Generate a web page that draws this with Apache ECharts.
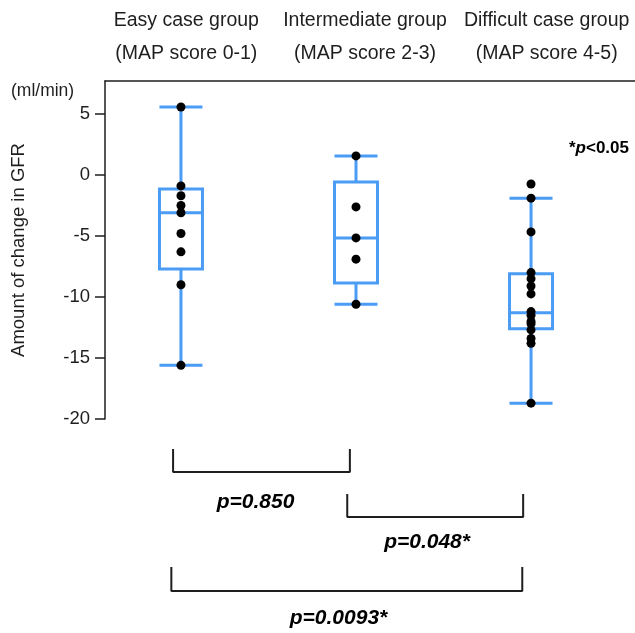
<!DOCTYPE html>
<html>
<head>
<meta charset="utf-8">
<script src="https://cdn.jsdelivr.net/npm/echarts@6/dist/echarts.min.js"></script>
<style>
  html, body { margin: 0; padding: 0; background: #fff; }
  #chart { width: 635px; height: 633px; }
</style>
</head>
<body>
<div id="chart"></div>
<script>
// 分组 / categories
const groupLabels = [
  'Easy case group\n(MAP score 0-1)',
  'Intermediate group\n(MAP score 2-3)',
  'Difficult case group\n(MAP score 4-5)'
];
const groupX = [1, 2, 3];

// box stats: [min, Q1, median, Q3, max]
const easyBox = [-15.6, -7.7, -3.1, -1.15, 5.57];
const intermediateBox = [-10.6, -8.85, -5.16, -0.57, 1.56];
const difficultBox = [-18.7, -12.6, -11.3, -8.1, -1.9];

// individual cases
const easyPoints = [5.57, -0.9, -1.7, -2.5, -3.1, -4.8, -6.3, -9.0, -15.6];
const intermediatePoints = [1.56, -2.62, -5.16, -6.9, -10.6];
const difficultPoints = [-0.74, -1.9, -4.67, -8.0, -8.5, -9.1, -9.75, -11.2, -11.5,
  -12.0, -12.2, -12.7, -13.4, -13.8, -18.7];

const yTicks = [-20, -15, -10, -5, 0, 5];

// comparison brackets: [from, to] on group axis, rows in bracket area
const bracketSpans = [[0.955, 1.965], [1.95, 2.955], [0.945, 2.95]];
const bracketTop = [0.47, 2.8, 6.58];
const bracketBottom = [1.66, 3.99, 7.82];
const pTexts = ['p=0.850', 'p=0.048*', 'p=0.0093*'];
const pTextX = [1.426, 2.406, 1.9];
const pTextY = [3.21, 5.28, 9.22];

const BLUE = '#4a9cf5';
const INK = '#1e1e1e';
const FONT = '"Liberation Sans", Arial, sans-serif';

let chart = null;

function initChart() {
  const container = document.getElementById('chart');
  chart = echarts.init(container, null, { renderer: 'canvas' });

  const pointData = []
    .concat(easyPoints.map(v => [groupX[0], v]))
    .concat(intermediatePoints.map(v => [groupX[1], v]))
    .concat(difficultPoints.map(v => [groupX[2], v]));

  // header labels sit a little left of the category centre in the original
  const labelPadRight = [14, 10, 0];
  const headerData = groupLabels.map((v, i) => ({
    value: v,
    textStyle: { padding: [0, labelPadRight[i], 0, 0] }
  }));

  const bracketSeries = bracketSpans.map((s, i) => ({
    type: 'line',
    xAxisIndex: 2,
    yAxisIndex: 1,
    data: [
      [s[0], bracketTop[i]],
      [s[0], bracketBottom[i]],
      [s[1], bracketBottom[i]],
      [s[1], bracketTop[i]]
    ],
    showSymbol: false,
    silent: true,
    lineStyle: { color: INK, width: 2 }
  }));

  const option = {
    backgroundColor: '#fff',
    animation: false,
    textStyle: { fontFamily: FONT },
    title: [
      {
        text: '(ml/min)',
        left: 6,
        top: 77,
        textStyle: { fontSize: 17.5, fontWeight: 'normal', color: INK, fontFamily: FONT }
      },
      {
        text: '{a|*}{b|p}{a|<0.05}',
        right: 1,
        top: 135,
        textStyle: {
          fontFamily: FONT,
          rich: {
            a: { fontSize: 17, fontWeight: 'bold', color: '#000', fontFamily: FONT },
            b: { fontSize: 17, fontWeight: 'bold', fontStyle: 'italic', color: '#000', fontFamily: FONT }
          }
        }
      }
    ],
    grid: [
      { left: 105, right: 0, top: 81, bottom: 214, outerBoundsMode: 'none', containLabel: false },
      { left: 105, right: 0, top: 440, bottom: 0, outerBoundsMode: 'none', containLabel: false }
    ],
    xAxis: [
      {
        type: 'category',
        gridIndex: 0,
        position: 'top',
        data: headerData,
        boundaryGap: true,
        axisLine: { onZero: false, lineStyle: { color: INK, width: 1.5 } },
        axisTick: { inside: true, length: 8, lineStyle: { color: INK, width: 1.5 } },
        axisLabel: {
          interval: 0,
          hideOverlap: false,
          fontSize: 19.5,
          lineHeight: 33,
          color: INK,
          margin: 11,
          fontFamily: FONT
        },
        splitLine: { show: false }
      },
      {
        type: 'value',
        gridIndex: 0,
        min: 0.566,
        max: 3.594,
        show: false
      },
      {
        type: 'value',
        gridIndex: 1,
        min: 0.566,
        max: 3.594,
        show: false
      }
    ],
    yAxis: [
      {
        type: 'value',
        gridIndex: 0,
        min: -20,
        max: 7.7,
        name: 'Amount of change in GFR',
        nameLocation: 'middle',
        nameGap: 77,
        nameTextStyle: { fontSize: 18.5, color: INK, fontFamily: FONT },
        axisLine: { show: true, onZero: false, lineStyle: { color: INK, width: 1.5 } },
        axisTick: {
          show: true,
          length: 10,
          customValues: yTicks,
          lineStyle: { color: INK, width: 1.5 }
        },
        axisLabel: {
          customValues: yTicks,
          fontSize: 18.5,
          color: INK,
          margin: 15,
          fontFamily: FONT
        },
        splitLine: { show: false }
      },
      {
        type: 'value',
        gridIndex: 1,
        min: 0,
        max: 10,
        inverse: true,
        show: false
      }
    ],
    series: [
      {
        type: 'boxplot',
        xAxisIndex: 1,
        yAxisIndex: 0,
        boxWidth: [43, 43],
        data: [
          [groupX[0]].concat(easyBox),
          [groupX[1]].concat(intermediateBox),
          [groupX[2]].concat(difficultBox)
        ],
        itemStyle: { color: '#fff', borderColor: BLUE, borderWidth: 3 },
        emphasis: { disabled: true },
        silent: true,
        z: 2
      },
      {
        type: 'scatter',
        xAxisIndex: 1,
        yAxisIndex: 0,
        data: pointData,
        symbolSize: 9,
        itemStyle: { color: '#000', opacity: 1 },
        silent: true,
        z: 3
      }
    ].concat(bracketSeries).concat([
      {
        type: 'scatter',
        xAxisIndex: 2,
        yAxisIndex: 1,
        symbolSize: 0,
        silent: true,
        itemStyle: { opacity: 1 },
        data: pTexts.map((t, i) => ({ value: [pTextX[i], pTextY[i]], name: t })),
        label: {
          show: true,
          position: 'inside',
          formatter: p => p.name,
          fontSize: 21,
          fontWeight: 'bold',
          fontStyle: 'italic',
          color: '#000',
          fontFamily: FONT
        }
      }
    ])
  };

  chart.setOption(option);
}

initChart();
</script>
</body>
</html>
